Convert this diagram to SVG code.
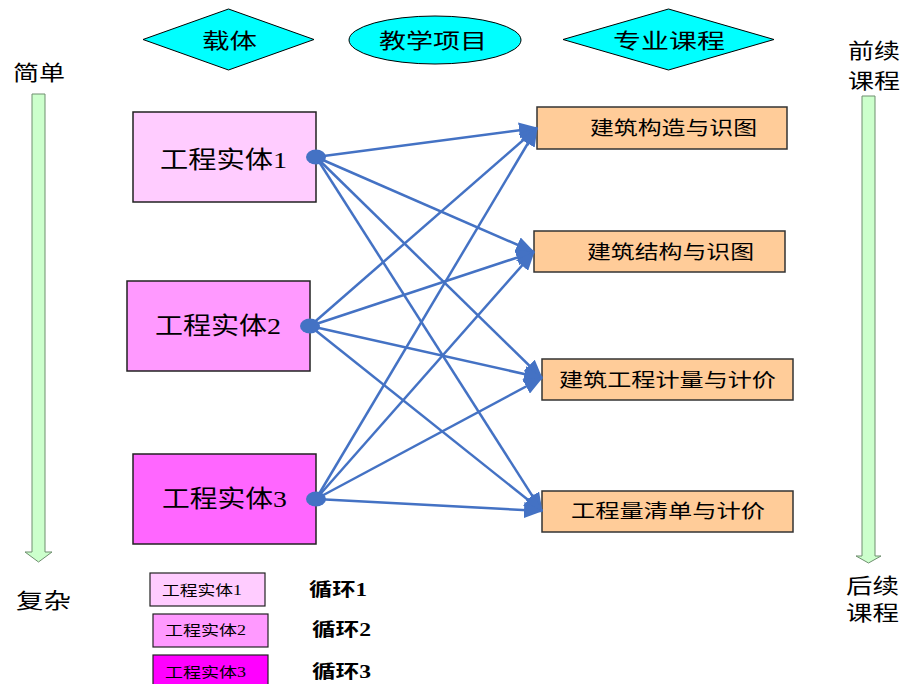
<svg xmlns="http://www.w3.org/2000/svg" width="906" height="684" viewBox="0 0 906 684">
<defs>
<style>
.hdr{fill:#00FFFF;stroke:#000;stroke-width:1}
.sans{font-family:"Liberation Sans","Noto Sans CJK SC",sans-serif;fill:#000}
.serif{font-family:"Liberation Serif","Noto Sans CJK SC",serif;fill:#000}
.ent{stroke:#222;stroke-width:1.5}
.course{fill:#FFCC99;stroke:#333;stroke-width:1.5}
.leg{stroke:#222;stroke-width:1.2}
.prog{fill:#CCFFCC;stroke:#6F8F6F;stroke-width:1}
.conn{stroke:#4472C4;stroke-width:2.5;fill:none;marker-end:url(#ah)}
.dot{fill:#4472C4}
</style>
<marker id="ah" markerUnits="userSpaceOnUse" viewBox="0 0 19 16" refX="18" refY="8" markerWidth="19" markerHeight="16" orient="auto">
<path d="M0,0 L19,8 L0,16 z" fill="#4472C4"/>
</marker>
</defs>
<rect width="906" height="684" fill="#fff"/>

<g id="hdr-carrier">
<polygon class="hdr" points="143,39.5 228.5,9 314,39.5 228.5,70"/>
<text class="sans" x="202" y="40" font-size="21" dominant-baseline="central" textLength="55" lengthAdjust="spacingAndGlyphs">载体</text>
</g>
<g id="hdr-project">
<ellipse class="hdr" cx="435" cy="40" rx="86" ry="24"/>
<text class="sans" x="379" y="40" font-size="21" dominant-baseline="central" textLength="108" lengthAdjust="spacingAndGlyphs">教学项目</text>
</g>
<g id="hdr-course">
<polygon class="hdr" points="563,39.5 668.5,9 774,39.5 668.5,70"/>
<text class="sans" x="613" y="40" font-size="21" dominant-baseline="central" textLength="112" lengthAdjust="spacingAndGlyphs">专业课程</text>
</g>

<g id="left-progress">
<text class="sans" x="13" y="72" font-size="21" dominant-baseline="central" textLength="52" lengthAdjust="spacingAndGlyphs">简单</text>
<polygon class="prog" points="32,94 45,94 45,552 52,552 38.5,562 25,552 32,552"/>
<text class="sans" x="16" y="600" font-size="21" dominant-baseline="central" textLength="55" lengthAdjust="spacingAndGlyphs">复杂</text>
</g>
<g id="right-progress">
<text class="sans" x="848" y="50" font-size="21" dominant-baseline="central" textLength="52" lengthAdjust="spacingAndGlyphs">前续</text>
<text class="sans" x="848" y="80" font-size="21" dominant-baseline="central" textLength="52" lengthAdjust="spacingAndGlyphs">课程</text>
<polygon class="prog" points="862,96 875,96 875,556 881,556 868.5,563 856,556 862,556"/>
<text class="sans" x="846" y="585" font-size="21" dominant-baseline="central" textLength="53" lengthAdjust="spacingAndGlyphs">后续</text>
<text class="sans" x="846" y="612" font-size="21" dominant-baseline="central" textLength="53" lengthAdjust="spacingAndGlyphs">课程</text>
</g>

<g id="entity1">
<rect class="ent" x="133" y="112" width="183" height="90" fill="#FFCCFF"/>
<text class="serif" x="160" y="160" font-size="24" dominant-baseline="central" textLength="127" lengthAdjust="spacingAndGlyphs">工程实体1</text>
</g>
<g id="entity2">
<rect class="ent" x="127" y="281" width="183" height="90" fill="#FF99FF"/>
<text class="serif" x="155" y="326" font-size="24" dominant-baseline="central" textLength="126" lengthAdjust="spacingAndGlyphs">工程实体2</text>
</g>
<g id="entity3">
<rect class="ent" x="133" y="454" width="183" height="90" fill="#FF66FF"/>
<text class="serif" x="162" y="499" font-size="24" dominant-baseline="central" textLength="125" lengthAdjust="spacingAndGlyphs">工程实体3</text>
</g>

<g id="course1">
<rect class="course" x="537" y="107" width="250" height="42"/>
<text class="serif" x="590" y="128" font-size="19" dominant-baseline="central" textLength="167" lengthAdjust="spacingAndGlyphs">建筑构造与识图</text>
</g>
<g id="course2">
<rect class="course" x="534" y="231" width="251" height="41"/>
<text class="serif" x="587" y="252" font-size="19" dominant-baseline="central" textLength="167" lengthAdjust="spacingAndGlyphs">建筑结构与识图</text>
</g>
<g id="course3">
<rect class="course" x="542" y="359" width="251" height="41"/>
<text class="serif" x="559" y="380" font-size="19" dominant-baseline="central" textLength="217" lengthAdjust="spacingAndGlyphs">建筑工程计量与计价</text>
</g>
<g id="course4">
<rect class="course" x="542" y="491" width="251" height="41"/>
<text class="serif" x="571" y="511" font-size="19" dominant-baseline="central" textLength="194" lengthAdjust="spacingAndGlyphs">工程量清单与计价</text>
</g>

<g id="connectors">
<line class="conn" x1="316" y1="157" x2="537" y2="128"/>
<line class="conn" x1="316" y1="157" x2="534" y2="252"/>
<line class="conn" x1="316" y1="157" x2="542" y2="378"/>
<line class="conn" x1="316" y1="157" x2="542" y2="511"/>
<line class="conn" x1="310" y1="326" x2="537" y2="128"/>
<line class="conn" x1="310" y1="326" x2="534" y2="252"/>
<line class="conn" x1="310" y1="326" x2="542" y2="378"/>
<line class="conn" x1="310" y1="326" x2="542" y2="511"/>
<line class="conn" x1="316" y1="499" x2="537" y2="128"/>
<line class="conn" x1="316" y1="499" x2="534" y2="252"/>
<line class="conn" x1="316" y1="499" x2="542" y2="378"/>
<line class="conn" x1="316" y1="499" x2="542" y2="511"/>
<ellipse class="dot" cx="316" cy="157" rx="10" ry="7.5"/>
<ellipse class="dot" cx="310" cy="326" rx="10" ry="7.5"/>
<ellipse class="dot" cx="316" cy="499" rx="10" ry="7.5"/>
</g>

<g id="legend1">
<rect class="leg" x="150" y="573" width="115" height="33" fill="#FFCCFF"/>
<text class="serif" x="162" y="590" font-size="14" dominant-baseline="central" textLength="80" lengthAdjust="spacingAndGlyphs">工程实体1</text>
<text class="serif" x="309" y="590" font-size="18" font-weight="bold" dominant-baseline="central" textLength="58" lengthAdjust="spacingAndGlyphs">循环1</text>
</g>
<g id="legend2">
<rect class="leg" x="153" y="614" width="115" height="33" fill="#FF99FF"/>
<text class="serif" x="165" y="630" font-size="14" dominant-baseline="central" textLength="81" lengthAdjust="spacingAndGlyphs">工程实体2</text>
<text class="serif" x="312" y="630" font-size="18" font-weight="bold" dominant-baseline="central" textLength="59" lengthAdjust="spacingAndGlyphs">循环2</text>
</g>
<g id="legend3">
<rect class="leg" x="153" y="655" width="115" height="33" fill="#FF00FF"/>
<text class="serif" x="165" y="672" font-size="14" dominant-baseline="central" textLength="81" lengthAdjust="spacingAndGlyphs">工程实体3</text>
<text class="serif" x="312" y="672" font-size="18" font-weight="bold" dominant-baseline="central" textLength="59" lengthAdjust="spacingAndGlyphs">循环3</text>
</g>
</svg>
